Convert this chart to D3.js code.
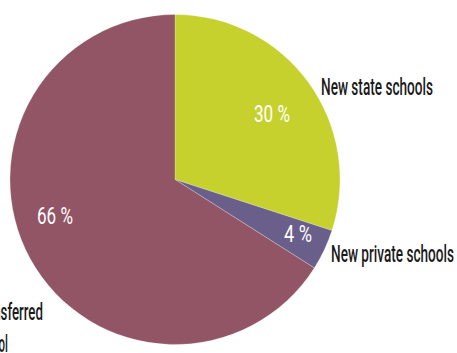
<!DOCTYPE html>
<html>
<head>
<meta charset="utf-8">
<script src="https://cdn.jsdelivr.net/npm/d3@7"></script>
<style>
  html, body { margin: 0; padding: 0; background: #fff; }
  svg { display: block; }
  text { font-family: Roboto, "Liberation Sans", sans-serif; }
</style>
</head>
<body>
<script>
// School destinations, share of pupils (%)
const categories = ["New state schools", "New private schools", "Transferred school"];
const values = [30, 4, 66];
const valueLabels = ["30 %", "4 %", "66 %"];
const colors = ["#c6d12e", "#6a5f8a", "#925565"];

const W = 457, H = 353;
const cx = 175, cy = 179.5, R = 165;

const svg = d3.select("body").append("svg")
  .attr("width", W).attr("height", H);

const pie = d3.pie().sort(null).value(d => d)(values);
const arc = d3.arc().innerRadius(0).outerRadius(R);

const g = svg.append("g").attr("transform", `translate(${cx},${cy})`);

g.selectAll("path.slice")
  .data(pie)
  .join("path")
  .attr("class", "slice")
  .attr("d", arc)
  .attr("fill", (d, i) => colors[i])
  .attr("stroke", "#fff")
  .attr("stroke-width", 0.4)
  .attr("stroke-opacity", 0.6);

// Condensed look: draw at natural width, then squeeze horizontally
function label(x, y, txt, width, fill, weight, anchor) {
  const grp = svg.append("g");
  const t = grp.append("text")
    .attr("x", 0).attr("y", 0)
    .attr("font-size", 23)
    .attr("font-weight", weight)
    .attr("fill", fill)
    .text(txt);
  const natural = t.node().getComputedTextLength();
  const sx = width / natural;
  const left = anchor === "middle" ? x - width / 2 : x;
  grp.attr("transform", `translate(${left},${y}) scale(${sx},1)`);
}

// Percentages inside the slices
label(272, 122, valueLabels[0], 36, "#fff", 400, "middle");
label(298, 242, valueLabels[1], 28, "#fff", 400, "middle");
label(55, 224, valueLabels[2], 36, "#fff", 400, "middle");

// Category names outside the pie
label(321, 95, categories[0], 112, "#1a1a1a", 500);
label(331, 262, categories[1], 123, "#1a1a1a", 500);
const last = categories[2].split(" ");
label(-26, 320, last[0], 69, "#1a1a1a", 500);
label(-26, 352, last[1], 34, "#1a1a1a", 500);
</script>
</body>
</html>
